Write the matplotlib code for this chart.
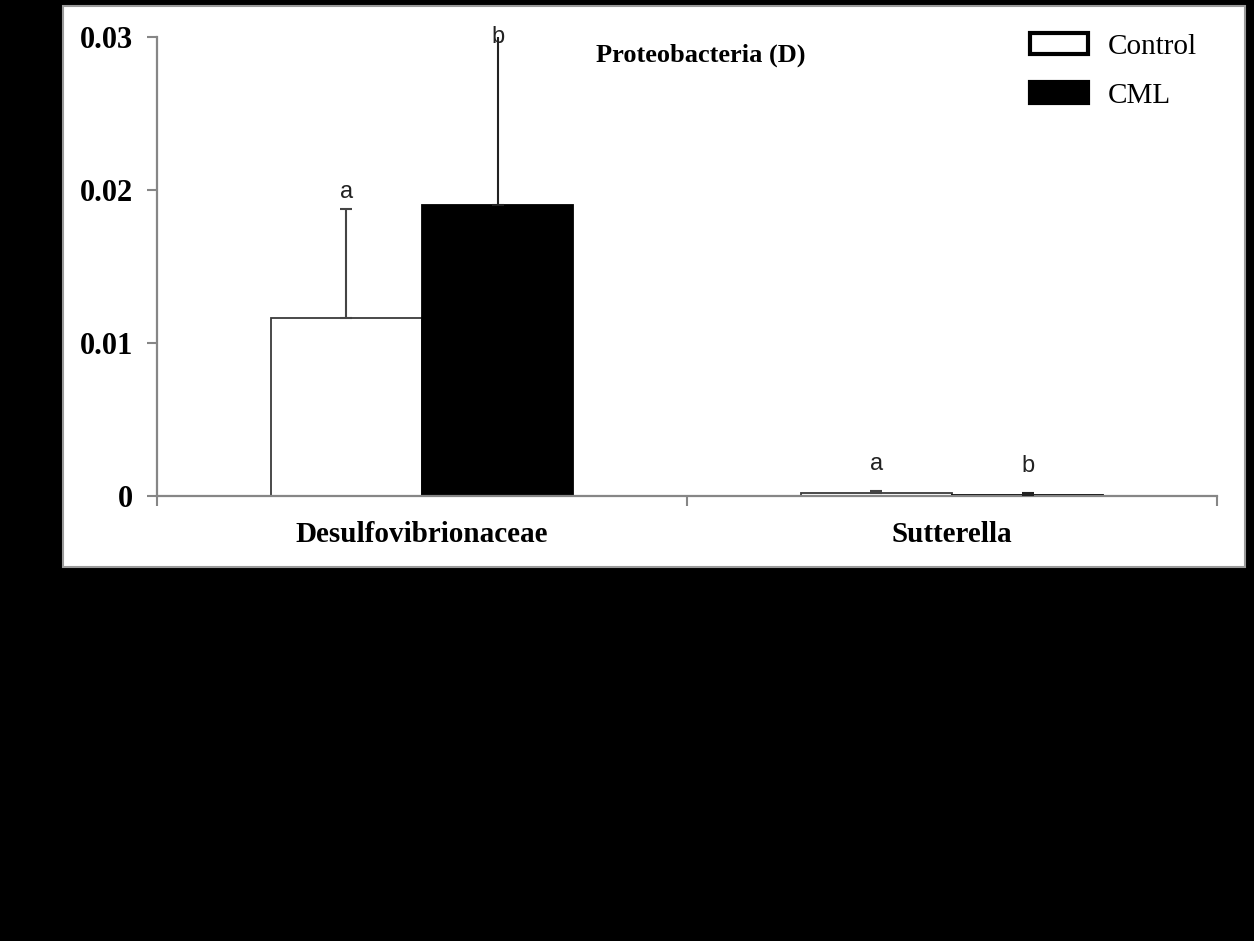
import matplotlib.pyplot as plt
import matplotlib.patches as mpatches
import numpy as np

# relative abundance, Proteobacteria families/genera
taxa = ["Desulfovibrionaceae", "Sutterella"]
control_mean = [0.01163, 0.00022]
control_err = [0.00713, 0.00010]
cml_mean = [0.01902, 0.00008]
cml_err = [0.0130, 0.00010]
control_sig = ["a", "a"]
cml_sig = ["b", "b"]

serif = "Liberation Serif"
sans = "Liberation Sans"

fig = plt.figure(figsize=(12.54, 9.41), dpi=100, facecolor="black")

# white panel behind the plot
panel = mpatches.Rectangle((63 / 1254, 1 - 567 / 941), (1245 - 63) / 1254, (567 - 6) / 941,
                           transform=fig.transFigure, facecolor="white",
                           edgecolor="#9a9a9a", linewidth=1.5, zorder=-1)
fig.patches.append(panel)

ax = fig.add_axes([157 / 1254, 1 - 496 / 941, (1217 - 157) / 1254, (496 - 37) / 941])
ax.set_facecolor("none")

x = np.arange(len(taxa))
w = 0.285

ax.bar(x - w / 2, control_mean, w, color="white", edgecolor="#3a3a3a", linewidth=1.3, zorder=2)
ax.bar(x + w / 2, cml_mean, w, color="black", edgecolor="black", linewidth=1.3, zorder=2)

ax.errorbar(x - w / 2, control_mean, yerr=[np.zeros(2), control_err], fmt="none",
            ecolor="#444444", elinewidth=1.5, capsize=4, capthick=1.5, zorder=3)
ax.errorbar(x + w / 2, cml_mean, yerr=[np.zeros(2), cml_err], fmt="none",
            ecolor="#222222", elinewidth=1.5, capsize=4, capthick=1.5, zorder=3)

ax.set_ylim(0, 0.03)
ax.set_xlim(-0.5, 1.5)

# significance letters above each error bar
for xs, means, errs, sig in [(x - w / 2, control_mean, control_err, control_sig),
                             (x + w / 2, cml_mean, cml_err, cml_sig)]:
    for xi, m, e, s in zip(xs, means, errs, sig):
        top = min(m + e, 0.0289)
        off = 6 if m > 0.001 else 16
        ax.annotate(s, (xi, top), xytext=(0, off), textcoords="offset pixels",
                    ha="center", va="bottom", fontsize=17, family=sans, color="#222222")

ax.set_yticks([0, 0.01, 0.02, 0.03])
ax.set_yticklabels(["0", "0.01", "0.02", "0.03"], fontsize=22, family=serif, fontweight="bold")
ax.set_xticks(x)
ax.set_xticklabels(taxa, fontsize=21, family=serif, fontweight="bold")
ax.tick_params(axis="x", which="major", length=0, pad=18)
ax.set_xticks([-0.5, 0.5, 1.5], minor=True)
ax.tick_params(axis="x", which="minor", length=7.2, width=1.5, color="#868686", direction="out")
ax.tick_params(axis="y", length=7.2, width=1.5, color="#868686", direction="out", pad=10)

for side in ["top", "right"]:
    ax.spines[side].set_visible(False)
for side in ["left", "bottom"]:
    ax.spines[side].set_color("#868686")
    ax.spines[side].set_linewidth(1.6)

ax.text(0.513, 0.961, "Proteobacteria (D)", transform=ax.transAxes, ha="center", va="center",
        fontsize=19, family=serif, fontweight="bold")

handles = [mpatches.Patch(facecolor="white", edgecolor="black", linewidth=3),
           mpatches.Patch(facecolor="black", edgecolor="black", linewidth=3)]
fig.legend(handles, ["Control", "CML"], loc="upper left",
           bbox_to_anchor=(1030 / 1254, 1 - 33 / 941), frameon=False,
           prop={"family": serif, "size": 21}, borderpad=0, borderaxespad=0,
           handlelength=2.0, handleheight=0.75, handletextpad=0.65, labelspacing=0.75)

fig.savefig("out.png", dpi=100, facecolor="black")
